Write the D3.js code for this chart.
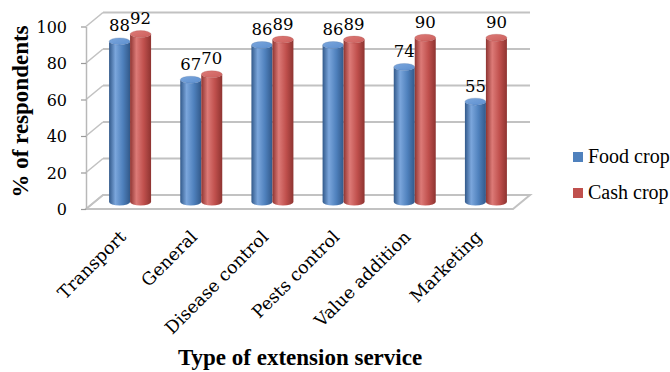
<!DOCTYPE html>
<html>
<head>
<meta charset="utf-8">
<script src="https://cdn.jsdelivr.net/npm/d3@7"></script>
<style>
  html, body { margin: 0; padding: 0; background: #fff; }
  svg { display: block; }
</style>
</head>
<body>
<svg id="chart" width="670" height="372"></svg>
<script>
// Extension services and the share of respondents receiving each
const categories = ["Transport", "General", "Disease control", "Pests control", "Value addition", "Marketing"];
const seriesNames = ["Food crop", "Cash crop"];
const foodCrop = [88, 67, 86, 86, 74, 55];
const cashCrop = [92, 70, 89, 89, 90, 90];
const yTicks = [0, 20, 40, 60, 80, 100];

const seriesValues = [foodCrop, cashCrop];
const colors = {
  "Food crop": { base: "#4F81BD", dark: "#32598a", light: "#7ba6dc", top: "#5d8fcf" },
  "Cash crop": { base: "#C0504D", dark: "#8e3431", light: "#dc7a77", top: "#cc5f5c" }
};

const svg = d3.select("#chart");
const serif = "'Liberation Serif', 'Times New Roman', serif";
const numFont = "'DejaVu Serif', serif";

// Front plane of the 3-D plot box; the back wall is offset by (DX, DY)
const DX = 17, DY = -14;
const yFront = d3.scaleLinear().domain([0, 100]).range([209, 26.5]);
const xFront = d3.scaleBand().domain(categories).range([86, 513])
  .paddingInner(0.41).paddingOuter(0.205);
const xSeries = d3.scaleBand().domain(seriesNames).range([0, xFront.bandwidth()]);

// Bars stand halfway into the depth of the box
const midX = DX / 2, midY = DY / 2;
const yMid = v => yFront(v) + midY;

const defs = svg.append("defs");
seriesNames.forEach((s, i) => {
  const c = colors[s];
  const g = defs.append("linearGradient").attr("id", "cyl" + i)
    .attr("x1", 0).attr("x2", 1).attr("y1", 0).attr("y2", 0);
  g.append("stop").attr("offset", "0%").attr("stop-color", c.dark);
  g.append("stop").attr("offset", "30%").attr("stop-color", c.light);
  g.append("stop").attr("offset", "65%").attr("stop-color", c.base);
  g.append("stop").attr("offset", "100%").attr("stop-color", c.dark);
  const t = defs.append("linearGradient").attr("id", "cap" + i)
    .attr("x1", 0).attr("x2", 1).attr("y1", 0).attr("y2", 1);
  t.append("stop").attr("offset", "0%").attr("stop-color", c.light);
  t.append("stop").attr("offset", "100%").attr("stop-color", c.top);
});

const xLeft = xFront.range()[0], xRight = xFront.range()[1];
const gridColor = "#c2c2c2";

// Floor
svg.append("path")
  .attr("d", d3.line()([
    [xLeft, yFront(0)], [xRight, yFront(0)],
    [xRight + DX, yFront(0) + DY], [xLeft + DX, yFront(0) + DY]
  ]) + "Z")
  .attr("fill", "none").attr("stroke", gridColor).attr("stroke-width", 2);

// Back-wall gridlines and left-wall diagonals
const grid = svg.append("g");
yTicks.forEach(t => {
  grid.append("line")
    .attr("x1", xLeft + DX).attr("x2", xRight + DX)
    .attr("y1", yFront(t) + DY).attr("y2", yFront(t) + DY)
    .attr("stroke", gridColor).attr("stroke-width", 2.2);
  grid.append("line")
    .attr("x1", xLeft).attr("x2", xLeft + DX)
    .attr("y1", yFront(t)).attr("y2", yFront(t) + DY)
    .attr("stroke", gridColor).attr("stroke-width", 1.6);
});

// Value axis
const yAxis = svg.append("g")
  .attr("transform", `translate(${xLeft},0)`)
  .call(d3.axisLeft(yFront).tickValues(yTicks).tickSize(5).tickSizeOuter(0).tickPadding(14));
yAxis.select(".domain").attr("stroke", "#b8b8b8").attr("stroke-width", 1.5);
yAxis.selectAll(".tick line").attr("stroke", "#9a9a9a").attr("stroke-width", 1.2);
yAxis.selectAll(".tick text")
  .attr("font-family", numFont).attr("font-size", 16).attr("fill", "#000")
  .attr("dy", "0.36em");

// Cylinders
const ry = 3.5;
const bars = svg.append("g");
categories.forEach((cat, ci) => {
  seriesNames.forEach((s, si) => {
    const v = seriesValues[si][ci];
    const x0 = xFront(cat) + xSeries(s) + midX;
    const w = xSeries.bandwidth();
    const cx = x0 + w / 2, rx = w / 2;
    const yt = yMid(v), yb = yMid(0);
    const d = `M${x0},${yt} L${x0},${yb} A${rx},${ry} 0 0 0 ${x0 + w},${yb} L${x0 + w},${yt} A${rx},${ry} 0 0 1 ${x0},${yt} Z`;
    bars.append("path").attr("d", d).attr("fill", `url(#cyl${si})`);
    bars.append("ellipse")
      .attr("cx", cx).attr("cy", yt).attr("rx", rx).attr("ry", ry)
      .attr("fill", `url(#cap${si})`)
      .attr("stroke", colors[s].dark).attr("stroke-opacity", 0.35).attr("stroke-width", 0.6);
  });
});

// Value labels
const labels = svg.append("g");
categories.forEach((cat, ci) => {
  seriesNames.forEach((s, si) => {
    const v = seriesValues[si][ci];
    labels.append("text")
      .attr("x", xFront(cat) + xSeries(s) + midX + xSeries.bandwidth() / 2)
      .attr("y", yMid(v) - 10)
      .attr("text-anchor", "middle")
      .attr("font-family", numFont).attr("font-size", 16.5)
      .text(v);
  });
});

// Category labels
const cats = svg.append("g");
categories.forEach(cat => {
  const cx = xFront(cat) + xFront.bandwidth() / 2 + midX;
  cats.append("text")
    .attr("transform", `translate(${cx - 3},${238}) rotate(-45)`)
    .attr("text-anchor", "end")
    .attr("font-family", numFont).attr("font-size", 17.5)
    .text(cat);
});

// Axis titles
svg.append("text")
  .attr("x", 300).attr("y", 365)
  .attr("text-anchor", "middle")
  .attr("font-family", serif).attr("font-weight", "bold").attr("font-size", 23)
  .text("Type of extension service");

svg.append("text")
  .attr("transform", "translate(28,111.5) rotate(-90)")
  .attr("text-anchor", "middle")
  .attr("font-family", serif).attr("font-weight", "bold").attr("font-size", 23)
  .text("% of respondents");

// Legend
const legend = svg.append("g");
seriesNames.forEach((s, i) => {
  const y = 152 + i * 36;
  legend.append("rect").attr("x", 573).attr("y", y).attr("width", 10).attr("height", 10)
    .attr("fill", colors[s].base);
  legend.append("text").attr("x", 588).attr("y", y + 11)
    .attr("font-family", serif).attr("font-size", 20)
    .text(s);
});
</script>
</body>
</html>
